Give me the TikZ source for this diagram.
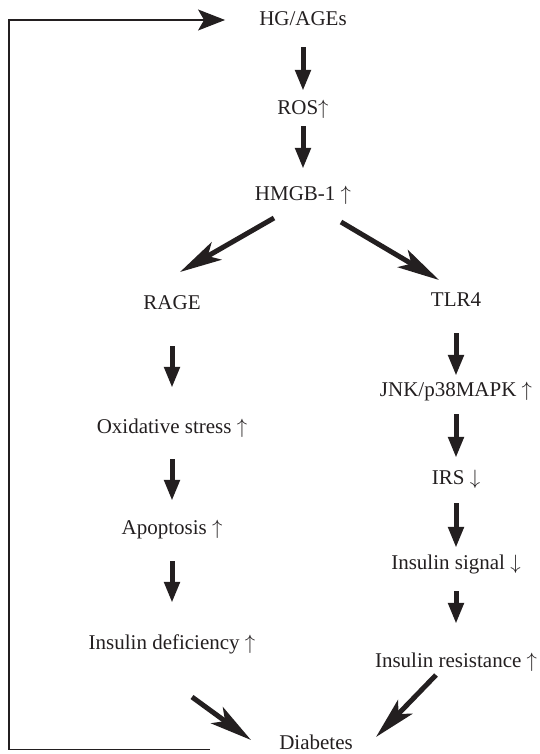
\documentclass[tikz,border=0pt]{standalone}
\usepackage{fontspec}
\setmainfont{Liberation Serif}
\usetikzlibrary{arrows.meta}
\definecolor{ink}{HTML}{231F20}
\newcommand{\up}{$\uparrow$}
\newcommand{\down}{$\downarrow$}

\begin{document}
\begin{tikzpicture}[
  x=1pt, y=-1pt,
  lbl/.style={inner sep=0pt, text height=15pt, text depth=4pt, font=\fontsize{21}{25}\selectfont, text=ink},
  flow/.style={draw=ink, line width=5pt, -{Triangle[length=21pt, width=15pt]}},
  slant/.style={draw=ink, line width=5pt, -{Stealth[length=42pt, width=20pt, inset=10pt]}},
  feedback/.style={draw=ink, line width=1.2pt, -{Stealth[length=27pt, width=21pt, inset=6pt]}}
]
  \useasboundingbox (0,0) rectangle (539,754);

  \node[lbl] (hg) at (303,20) {HG/AGEs};
  \node[lbl] (ros) at (303,109) {ROS\up};
  \node[lbl] (hmgb) at (303,195) {HMGB-1 \up};
  \node[lbl] (rage) at (172,304) {RAGE};
  \node[lbl] (tlr) at (456,301) {TLR4};
  \node[lbl] (ox) at (172,428) {Oxidative stress \up};
  \node[lbl] (apo) at (172,529) {Apoptosis \up};
  \node[lbl] (def) at (172,644) {Insulin deficiency \up};
  \node[lbl] (jnk) at (456,391) {JNK/p38MAPK \up};
  \node[lbl] (irs) at (456,479) {IRS \down};
  \node[lbl] (sig) at (456,564) {Insulin signal \down};
  \node[lbl] (res) at (456,662) {Insulin resistance \up};
  \node[lbl] (diab) at (316,744) {Diabetes};

  \draw[flow, shorten <=17.5pt, shorten >=8.5pt] (hg) -- (ros);
  \draw[flow, shorten <=7.5pt, shorten >=16.5pt] (ros) -- (hmgb);
  \draw[slant] ([shift={(-29,23)}]hmgb.center) -- ([shift={(8,-32)}]rage.center);
  \draw[slant] ([shift={(38,27)}]hmgb.center) -- ([shift={(-17,-21)}]tlr.center);

  \draw[flow, shorten <=32.5pt, shorten >=30.5pt] (rage) -- (ox);
  \draw[flow, shorten <=21.5pt, shorten >=18.5pt] (ox) -- (apo);
  \draw[flow, shorten <=22.5pt, shorten >=31.5pt] (apo) -- (def);

  \draw[flow, shorten <=22.5pt, shorten >=5.5pt] (tlr) -- (jnk);
  \draw[flow, shorten <=13.5pt, shorten >=11.5pt] (jnk) -- (irs);
  \draw[flow, shorten <=14.5pt, shorten >=6.5pt] (irs) -- (sig);
  \draw[flow, shorten <=17.5pt, shorten >=28.5pt] (sig) -- (res);

  \draw[slant] ([shift={(20,53)}]def.center) -- ([shift={(-65,-4)}]diab.center);
  \draw[slant] ([shift={(-20,13)}]res.center) -- ([shift={(60,-7)}]diab.center);

  \draw[feedback] ([xshift=-69pt]diab.base west) -- ++(-201,0) |- ([xshift=-34pt]hg.west);
\end{tikzpicture}
\end{document}
